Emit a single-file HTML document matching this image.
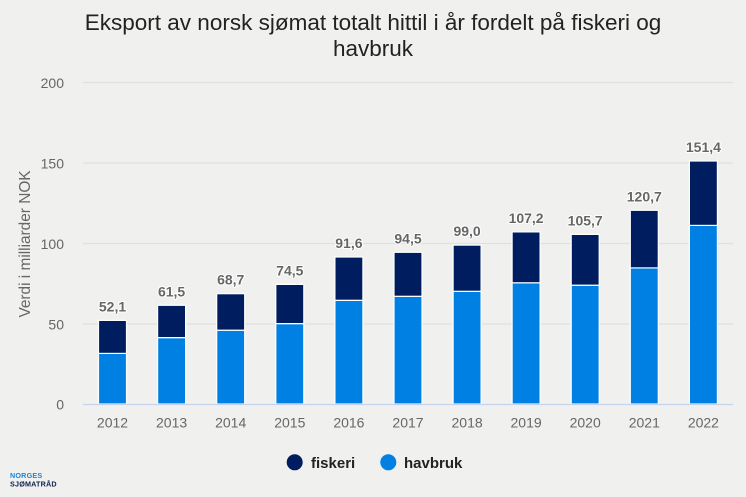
<!DOCTYPE html>
<html>
<head>
<meta charset="utf-8">
<style>
  html, body { margin:0; padding:0; background:#f0f1ef; }
  body { width:746px; height:497px; overflow:hidden; }
  svg { display:block; font-family:"Liberation Sans", Arial, sans-serif; }
</style>
</head>
<body>
<svg width="746" height="497" viewBox="0 0 746 497" xmlns="http://www.w3.org/2000/svg">
  <rect x="0" y="0" width="746" height="497" fill="#f0f1ef"/>

  <!-- Title -->
  <text x="373" y="30" text-anchor="middle" font-size="22.5" fill="#222">Eksport av norsk sjømat totalt hittil i år fordelt på fiskeri og</text>
  <text x="373" y="56" text-anchor="middle" font-size="22.5" fill="#222">havbruk</text>

  <!-- Gridlines -->
  <g stroke="#e0e1df" stroke-width="1.2">
    <line x1="83" y1="82.5" x2="733" y2="82.5"/>
    <line x1="83" y1="163" x2="733" y2="163"/>
    <line x1="83" y1="243.5" x2="733" y2="243.5"/>
    <line x1="83" y1="324" x2="733" y2="324"/>
  </g>

  <!-- Y tick labels -->
  <g font-size="14" fill="#666" text-anchor="end">
    <text x="64" y="88">200</text>
    <text x="64" y="168.5">150</text>
    <text x="64" y="249">100</text>
    <text x="64" y="329.5">50</text>
    <text x="64" y="409.5">0</text>
  </g>

  <!-- Y axis title -->
  <text transform="translate(30,244) rotate(-90)" text-anchor="middle" font-size="15.4" fill="#666">Verdi i milliarder NOK</text>

  <!-- Bars: havbruk -->
  <g fill="#0080e3" stroke="#ffffff" stroke-width="1.2">
    <rect x="98.5" y="353.4" width="28" height="50.6"/>
    <rect x="157.6" y="337.6" width="28" height="66.4"/>
    <rect x="216.7" y="330.2" width="28" height="73.8"/>
    <rect x="275.8" y="323.6" width="28" height="80.4"/>
    <rect x="334.9" y="300.3" width="28" height="103.7"/>
    <rect x="394.0" y="296.3" width="28" height="107.7"/>
    <rect x="453.1" y="291.3" width="28" height="112.7"/>
    <rect x="512.1" y="282.8" width="28" height="121.2"/>
    <rect x="571.2" y="285.2" width="28" height="118.8"/>
    <rect x="630.3" y="267.9" width="28" height="136.1"/>
    <rect x="689.4" y="225.4" width="28" height="178.6"/>
  </g>

  <!-- Bars: fiskeri -->
  <g fill="#001d5f" stroke="#ffffff" stroke-width="1.2">
    <rect x="98.5" y="320.4" width="28" height="33.0"/>
    <rect x="157.6" y="305.3" width="28" height="32.3"/>
    <rect x="216.7" y="293.7" width="28" height="36.5"/>
    <rect x="275.8" y="284.4" width="28" height="39.2"/>
    <rect x="334.9" y="257.0" width="28" height="43.3"/>
    <rect x="394.0" y="252.3" width="28" height="44.0"/>
    <rect x="453.1" y="245.1" width="28" height="46.2"/>
    <rect x="512.1" y="231.9" width="28" height="50.9"/>
    <rect x="571.2" y="234.4" width="28" height="50.8"/>
    <rect x="630.3" y="210.3" width="28" height="57.6"/>
    <rect x="689.4" y="161.0" width="28" height="64.4"/>
  </g>

  <!-- X axis line -->
  <line x1="83" y1="404.5" x2="733" y2="404.5" stroke="#c5d2ee" stroke-width="1.2"/>

  <!-- Value labels -->
  <g font-size="14" font-weight="bold" fill="#666" text-anchor="middle" stroke="#ffffff" stroke-width="2" paint-order="stroke" stroke-linejoin="round">
    <text x="112.5" y="311.4">52,1</text>
    <text x="171.6" y="296.3">61,5</text>
    <text x="230.7" y="284.7">68,7</text>
    <text x="289.8" y="275.4">74,5</text>
    <text x="348.9" y="248">91,6</text>
    <text x="408.0" y="243.3">94,5</text>
    <text x="467.1" y="236.1">99,0</text>
    <text x="526.1" y="222.9">107,2</text>
    <text x="585.2" y="225.4">105,7</text>
    <text x="644.3" y="201.3">120,7</text>
    <text x="703.4" y="152">151,4</text>
  </g>

  <!-- X tick labels -->
  <g font-size="14" fill="#666" text-anchor="middle">
    <text x="112.5" y="427.5">2012</text>
    <text x="171.6" y="427.5">2013</text>
    <text x="230.7" y="427.5">2014</text>
    <text x="289.8" y="427.5">2015</text>
    <text x="348.9" y="427.5">2016</text>
    <text x="408.0" y="427.5">2017</text>
    <text x="467.1" y="427.5">2018</text>
    <text x="526.1" y="427.5">2019</text>
    <text x="585.2" y="427.5">2020</text>
    <text x="644.3" y="427.5">2021</text>
    <text x="703.4" y="427.5">2022</text>
  </g>

  <!-- Legend -->
  <circle cx="294.7" cy="462.3" r="8" fill="#001d5f"/>
  <text x="311" y="468" font-size="15" font-weight="bold" fill="#222">fiskeri</text>
  <circle cx="388.3" cy="462.3" r="8" fill="#0080e3"/>
  <text x="404" y="468" font-size="15" font-weight="bold" fill="#222">havbruk</text>

  <!-- Logo -->
  <text x="10" y="478" font-size="7.2" font-weight="bold" fill="#1a82e0" letter-spacing="0.2">NORGES</text>
  <text x="10" y="486.5" font-size="7.2" font-weight="bold" fill="#0d1f4f" letter-spacing="0.2">SJØMATRÅD</text>
</svg>
</body>
</html>
